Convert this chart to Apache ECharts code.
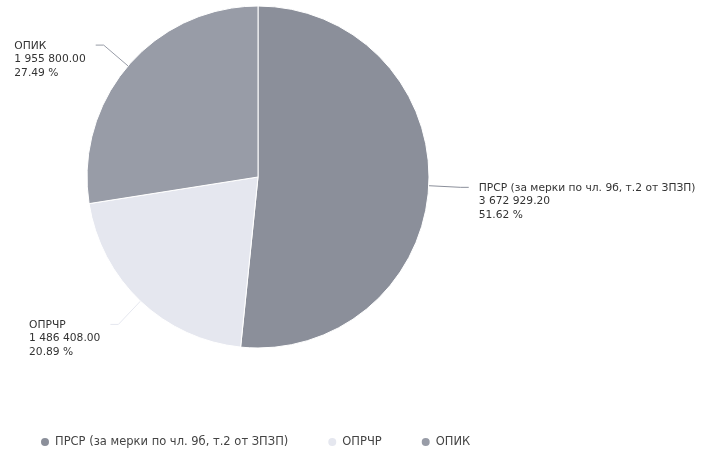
<!DOCTYPE html>
<html>
<head>
<meta charset="utf-8">
<script src="https://cdn.jsdelivr.net/npm/echarts@6/dist/echarts.min.js"></script>
<style>
  html, body { margin: 0; padding: 0; background: #fff; }
  #container { width: 704px; height: 454px; }
</style>
</head>
<body>
<div id="container"></div>
<script>
// data
const categories = ['ПРСР (за мерки по чл. 9б, т.2 от ЗПЗП)', 'ОПРЧР', 'ОПИК'];
const amounts = [3672929.20, 1486408.00, 1955800.00];
const colors = ['#8b8f9a', '#e5e7ef', '#989ca7'];

// 1955800 -> "1 955 800.00"
function fmtAmount(v) {
    let parts = v.toFixed(2).split('.');
    parts[0] = parts[0].replace(/\B(?=(\d{3})+(?!\d))/g, ' ');
    return parts.join('.');
}

let dom = document.getElementById('container');
let myChart = echarts.init(dom);

const option = {
    color: colors,
    textStyle: { fontFamily: 'DejaVu Sans' },
    legend: {
        data: categories,
        left: 34,
        top: 431,
        icon: 'circle',
        itemWidth: 10,
        itemHeight: 10,
        itemGap: 38,
        textStyle: { fontSize: 11.5, color: '#444' }
    },
    series: [
        {
            type: 'pie',
            center: [258, 177],
            radius: 171,
            startAngle: 90,
            clockwise: true,
            itemStyle: { borderColor: '#fff', borderWidth: 1 },
            label: {
                show: true,
                position: 'outside',
                overflow: 'none',
                distanceToLabelLine: 10,
                formatter: (p) => '{t|' + p.name + '}\n{t|' + fmtAmount(p.value) + '}\n{t|' + p.percent.toFixed(2) + ' %}',
                rich: {
                    t: { align: 'left', fontSize: 10.7, color: '#333', lineHeight: 13.5, fontFamily: 'DejaVu Sans' }
                }
            },
            labelLine: {
                show: true,
                length: 32,
                length2: 8,
                lineStyle: { width: 1 }
            },
            labelLayout: { verticalAlign: 'top', dy: -6 },
            data: categories.map((name, i) => ({ name: name, value: amounts[i] }))
        }
    ]
};

myChart.setOption(option);
</script>
</body>
</html>
